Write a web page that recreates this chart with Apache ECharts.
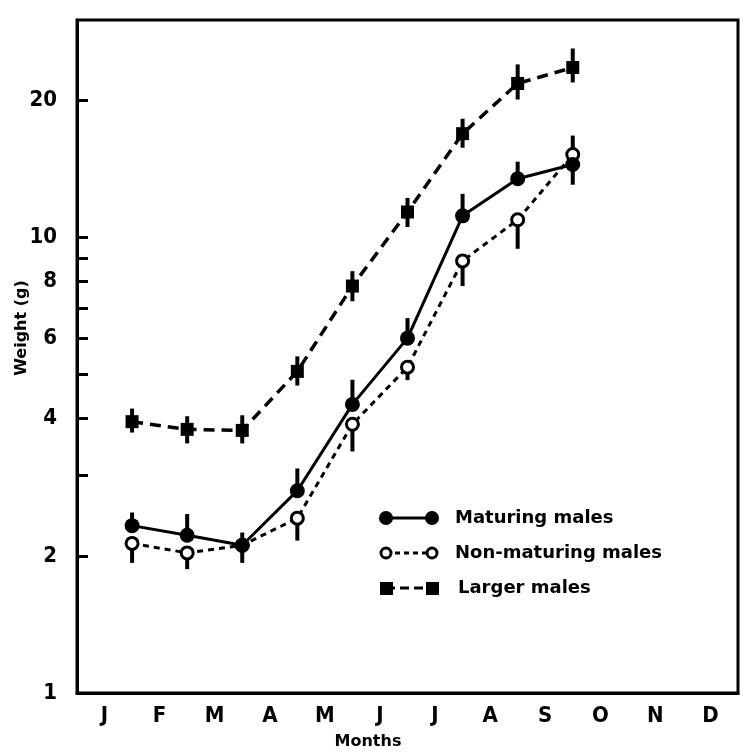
<!DOCTYPE html>
<html>
<head>
<meta charset="utf-8">
<script src="https://cdn.jsdelivr.net/npm/echarts@6/dist/echarts.min.js"></script>
<style>
html,body{margin:0;padding:0;background:#fff;}
#c{width:743px;height:755px;}
</style>
</head>
<body>
<div id="c"></div>
<script>
// ---- data ----
const months = ['J','F','M','A','M','J','J','A','S','O','N','D'];
const yTickValues = [1,2,3,4,5,6,7,8,9,10,20];
const yLabelValues = [1,2,4,6,8,10,20];

const maturing    = [2.33, 2.22, 2.11, 2.78, 4.30, 6.01, 11.15, 13.45, 14.45];
const nonMaturing = [2.13, 2.03, 2.11, 2.42, 3.89, 5.19, 8.88, 10.93, 15.2];
const larger      = [3.94, 3.79, 3.77, 5.08, 7.82, 11.37, 16.89, 21.77, 23.6];

// error bars: [low end, high end]
const maturingBar    = [[2.33,2.49],[2.22,2.47],[2.11,2.25],[2.78,3.11],[4.30,4.87],[6.01,6.65],[11.15,12.46],[13.45,14.66],[13.05,14.45]];
const nonMaturingBar = [[1.93,2.13],[1.87,2.03],[1.93,2.11],[2.16,2.42],[3.39,3.89],[4.86,5.19],[7.82,8.88],[9.44,10.93],[15.2,16.73]];
const largerBar      = [[3.73,4.21],[3.53,4.05],[3.53,4.07],[4.73,5.48],[7.24,8.43],[10.54,12.21],[15.73,18.21],[20.07,23.97],[21.88,25.98]];

const legendNames = ['Maturing males','Non-maturing males','Larger males'];
const xTitle = 'Months';
const yTitle = 'Weight (g)';

// ---- build ----
const pts = arr => arr.map((v,i) => [i+1, v]);
const bars = arr => arr.map((b,i) => [i+1, b[0], b[1]]);

function barRender(params, api){
  const x = api.value(0);
  const p1 = api.coord([x, api.value(1)]);
  const p2 = api.coord([x, api.value(2)]);
  return {type:'line', shape:{x1:p1[0],y1:p1[1],x2:p2[0],y2:p2[1]},
          style:{stroke:'#000', lineWidth:4, lineCap:'butt'}};
}

const FONT = "'Liberation Sans Narrow','DejaVu Sans Condensed','DejaVu Sans',sans-serif";

const chart = echarts.init(document.getElementById('c'), null, {renderer:'canvas'});
const option = {
  backgroundColor:'#fff',
  animation:false,
  grid:{left:77, right:5, top:20, bottom:62, show:true, borderColor:'#000', borderWidth:3, backgroundColor:'transparent'},
  xAxis:[
    {type:'category', data:months, boundaryGap:true, position:'bottom',
     axisLine:{lineStyle:{color:'#000', width:3}},
     axisTick:{inside:true, length:11, lineStyle:{color:'#000', width:3}},
     axisLabel:{color:'#000', fontSize:22, fontWeight:'bold', fontFamily:FONT, margin:12},
     splitLine:{show:false}},
    {type:'value', min:0, max:12, show:false}
  ],
  yAxis:{
    type:'log', logBase:10, min:1, max:30,
    axisLine:{show:true, lineStyle:{color:'#000', width:3}},
    axisTick:{show:true, inside:true, length:11, lineStyle:{color:'#000', width:3}, customValues:yTickValues},
    axisLabel:{color:'#000', fontSize:22, fontWeight:'bold', fontFamily:FONT, margin:20, customValues:yLabelValues},
    splitLine:{show:false}, minorTick:{show:false}
  },
  graphic:[
    {type:'text', x:22, y:328, rotation:Math.PI/2,
     style:{text:yTitle, fill:'#000', font:"bold 16px 'DejaVu Sans'", align:'center', verticalAlign:'middle'}},
    {type:'text', x:368, y:742,
     style:{text:xTitle, fill:'#000', font:"bold 16px 'DejaVu Sans'", align:'center', verticalAlign:'middle'}},
    // legend
    {type:'line', shape:{x1:386,y1:518,x2:432,y2:518}, style:{stroke:'#000', lineWidth:3}},
    {type:'circle', shape:{cx:386,cy:518,r:7}, style:{fill:'#000'}},
    {type:'circle', shape:{cx:432,cy:518,r:7}, style:{fill:'#000'}},
    {type:'text', x:455, y:518, style:{text:legendNames[0], fill:'#000', font:"bold 18px 'DejaVu Sans'", verticalAlign:'middle'}},
    {type:'line', shape:{x1:386,y1:553,x2:432,y2:553}, style:{stroke:'#000', lineWidth:3, lineDash:[5,4]}},
    {type:'circle', shape:{cx:386,cy:553,r:5}, style:{fill:'#fff', stroke:'#000', lineWidth:3}},
    {type:'circle', shape:{cx:432,cy:553,r:5}, style:{fill:'#fff', stroke:'#000', lineWidth:3}},
    {type:'text', x:455, y:553, style:{text:legendNames[1], fill:'#000', font:"bold 18px 'DejaVu Sans'", verticalAlign:'middle'}},
    {type:'line', shape:{x1:386,y1:588,x2:432,y2:588}, style:{stroke:'#000', lineWidth:3, lineDash:[9,5]}},
    {type:'rect', shape:{x:380,y:582,width:13,height:13}, style:{fill:'#000'}},
    {type:'rect', shape:{x:426,y:582,width:13,height:13}, style:{fill:'#000'}},
    {type:'text', x:458, y:588, style:{text:legendNames[2], fill:'#000', font:"bold 18px 'DejaVu Sans'", verticalAlign:'middle'}}
  ],
  series:[
    {type:'custom', name:'nmbar', xAxisIndex:1, renderItem:barRender, data:bars(nonMaturingBar), encode:{x:0,y:[1,2]}, z:1, silent:true},
    {type:'custom', name:'mbar', xAxisIndex:1, renderItem:barRender, data:bars(maturingBar), encode:{x:0,y:[1,2]}, z:1, silent:true},
    {type:'custom', name:'lbar', xAxisIndex:1, renderItem:barRender, data:bars(largerBar), encode:{x:0,y:[1,2]}, z:1, silent:true},
    {type:'line', name:legendNames[1], xAxisIndex:1, data:pts(nonMaturing), z:3,
     symbol:'circle', symbolSize:12, showAllSymbol:true,
     itemStyle:{color:'#fff', borderColor:'#000', borderWidth:3},
     lineStyle:{color:'#000', width:3, type:[6,5]}},
    {type:'line', name:legendNames[0], xAxisIndex:1, data:pts(maturing), z:4,
     symbol:'circle', symbolSize:15, showAllSymbol:true,
     itemStyle:{color:'#000'},
     lineStyle:{color:'#000', width:3, type:'solid'}},
    {type:'line', name:legendNames[2], xAxisIndex:1, data:pts(larger), z:4,
     symbol:'rect', symbolSize:13, showAllSymbol:true,
     itemStyle:{color:'#000'},
     lineStyle:{color:'#000', width:3.5, type:[11,7]}}
  ]
};
chart.setOption(option);
</script>
</body>
</html>
